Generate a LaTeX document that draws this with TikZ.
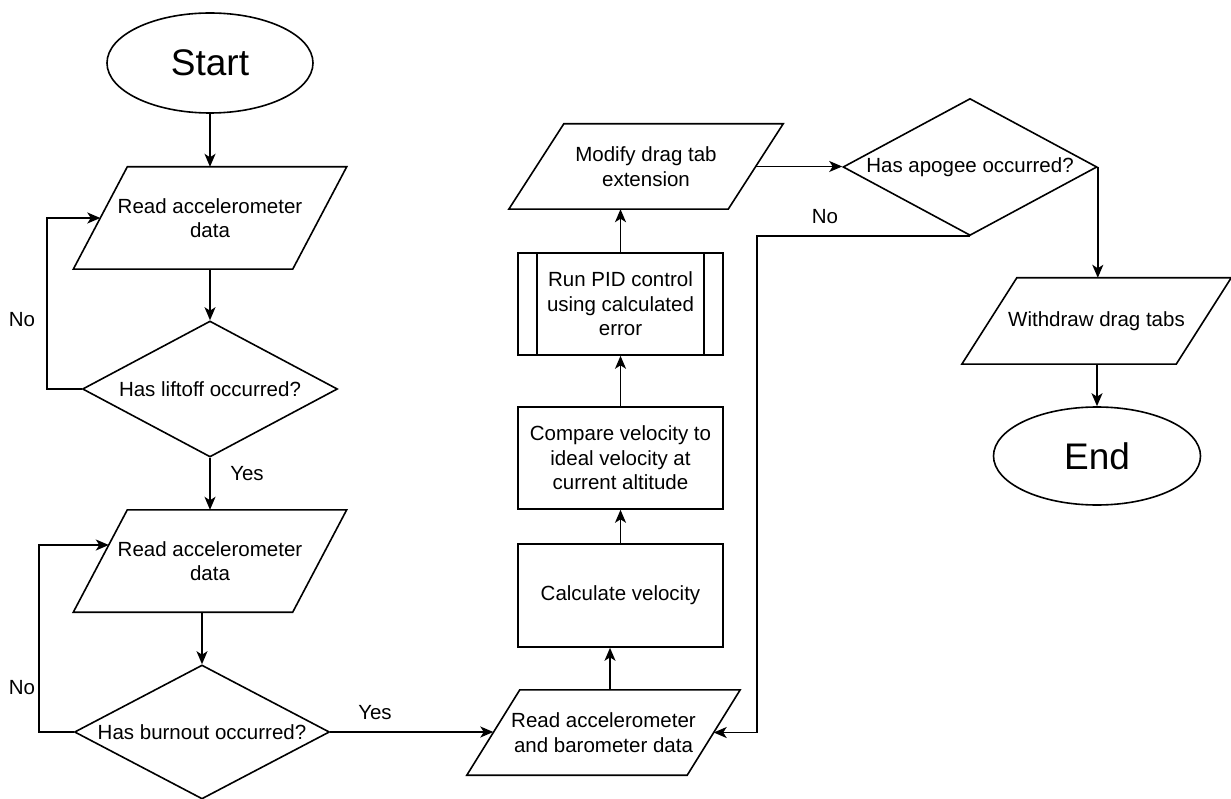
\documentclass[tikz,border=0pt]{standalone}
\usepackage{fontspec}
\setmainfont{Liberation Sans}
\usetikzlibrary{shapes.geometric,arrows.meta,calc}

% parallelogram outline around an invisible rectangular node: #1 node, #2 slant offset
\newcommand\slantbox[2]{%
  \draw[line] ([xshift=#2]#1.north west) -- (#1.north east)
    -- ([xshift=-#2]#1.south east) -- (#1.south west) -- cycle;}

\begin{document}
\begin{tikzpicture}[x=1pt,y=-1pt,
  every node/.style={font=\fontsize{20.5}{24.5}\selectfont, align=center, inner sep=0pt},
  line/.style={line width=1.6pt},
  arr/.style={line, -{Stealth[length=13pt,width=11pt,inset=3.5pt]}},
  terminal/.style={ellipse, draw, line, minimum width=206pt, minimum height=100pt,
                   font=\fontsize{37}{40}\selectfont},
  decision/.style={diamond, draw, line, aspect=1.875, minimum width=255pt, minimum height=136pt},
  process/.style={rectangle, draw, line, minimum width=205pt, minimum height=102pt},
  io/.style={rectangle, minimum width=273pt, minimum height=102pt},
  lbl/.style={}]

\useasboundingbox (0,0) rectangle (1231,799);

% left column: launch detection
\node[terminal] (start) at (210,63) {Start};
\node[io] (p1) at (210,218) {Read accelerometer\\data};
\slantbox{p1}{54}
\node[decision] (d1) at (210,389) {Has liftoff occurred?};
\node[io] (p2) at (210,561) {Read accelerometer\\data};
\slantbox{p2}{54}
\node[decision, minimum height=134pt] (d2) at (202,732) {Has burnout occurred?};

% middle column: control loop
\node[io, minimum height=85pt] (p3) at (603.5,732.5) {Read accelerometer\\and barometer data};
\slantbox{p3}{53}
\node[process, minimum height=103pt] (calc) at (620.5,595.5) {Calculate velocity};
\node[process] (cmp) at (620.5,458) {Compare velocity to\\ideal velocity at\\current altitude};
\node[process] (pid) at (620.5,304) {Run PID control\\using calculated\\error};
\draw[line] ([xshift=20]pid.north west) -- ([xshift=20]pid.south west);
\draw[line] ([xshift=-20]pid.north east) -- ([xshift=-20]pid.south east);
\node[io, minimum width=274pt, minimum height=85pt] (p4) at (646,166.5) {Modify drag tab\\extension};
\slantbox{p4}{55}

% right column: apogee and end
\node[decision, minimum width=254pt, minimum height=137pt] (d3) at (970,167) {Has apogee occurred?};
\node[io, minimum width=269pt, minimum height=86pt] (p5) at (1096.5,321) {Withdraw drag tabs};
\slantbox{p5}{55}
\node[terminal, minimum width=207pt, minimum height=98pt] (end) at (1097,456) {End};

% entry points on slanted edges
\coordinate (p1in) at ([xshift=27]p1.west);
\coordinate (p2in) at ($(p2.west)+(35.5,-16)$);
\coordinate (p3l) at ([xshift=26.5]p3.west);
\coordinate (p3r) at ([xshift=-26.5]p3.east);
\coordinate (p4r) at ([xshift=-27.5]p4.east);
\coordinate (nocorner) at ($(d3.south)+(-213,0)$);
\coordinate (p3top) at ([xshift=6.5]p3.north);

% connectors
\draw[arr] (start.south) -- (p1.north);
\draw[arr] (p1.south) -- (d1.north);
\draw[arr] (d1.west) -- ++(-35,0) |- (p1in);
\draw[arr] (d1.south) -- (p2.north);
\draw[arr] (d2.north |- p2.south) -- (d2.north);
\draw[arr] (d2.west) -- ++(-35,0) |- (p2in);
\draw[arr] (d2.east) -- (d2.east -| p3l);
\draw[arr] (p3top) -- (p3top |- calc.south);
\draw[arr] (calc.north) -- (cmp.south);
\draw[arr] (cmp.north) -- (pid.south);
\draw[arr] (pid.north) -- (pid.north |- p4.south);
\draw[arr] (p4r) -- (p4r -| d3.west);
\draw[arr] (d3.south) -- (nocorner) |- (p3r);
\draw[arr] (d3.east) -- (d3.east |- p5.north);
\draw[arr] (end.north |- p5.south) -- (end.north);

% branch labels
\node[lbl] (no1) at (22,320) {No};
\node[lbl] (yes1) at (247,474) {Yes};
\node[lbl] (no2) at (22,688) {No};
\node[lbl] (yes2) at (375,713) {Yes};
\node[lbl] (no3) at (825,217) {No};
\end{tikzpicture}
\end{document}
